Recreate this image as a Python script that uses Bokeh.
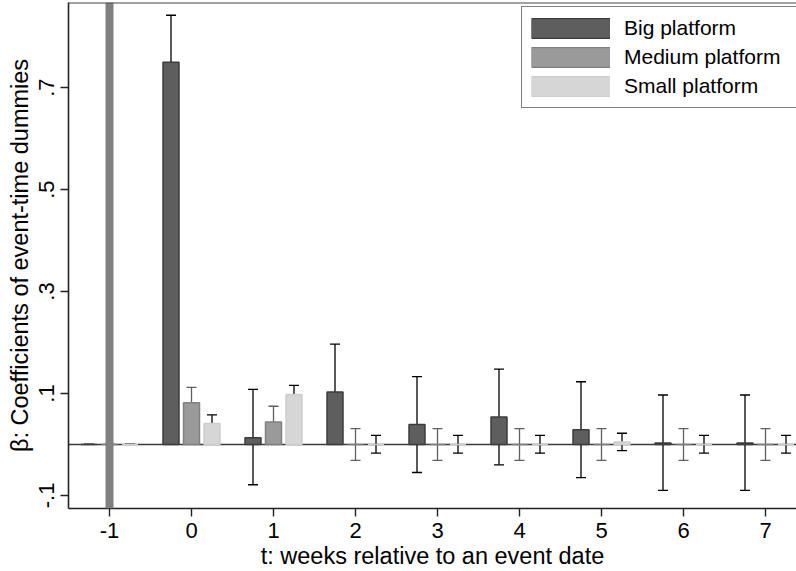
import numpy as np
from bokeh.plotting import figure
from bokeh.models import (ColumnDataSource, Range1d, FixedTicker, Span, Whisker,
                          TeeHead, Legend, LegendItem)
from bokeh.embed import file_html
from bokeh.resources import INLINE

# ---- data ----
weeks = [-1, 0, 1, 2, 3, 4, 5, 6, 7]
big = [0.0, 0.750, 0.013, 0.103, 0.039, 0.054, 0.029, 0.003, 0.003]
big_lo = [0.0, 0.658, -0.079, 0.009, -0.055, -0.040, -0.065, -0.090, -0.090]
big_hi = [0.0, 0.842, 0.108, 0.197, 0.133, 0.148, 0.123, 0.097, 0.097]
medium = [0.0, 0.082, 0.044, 0.0, 0.0, 0.0, 0.0, 0.0, 0.0]
medium_lo = [0.0, 0.052, 0.014, -0.031, -0.031, -0.031, -0.031, -0.031, -0.031]
medium_hi = [0.0, 0.112, 0.075, 0.031, 0.031, 0.031, 0.031, 0.031, 0.031]
small = [0.0, 0.041, 0.098, 0.0, 0.0, 0.0, 0.005, 0.0, 0.0]
small_lo = [0.0, 0.024, 0.080, -0.017, -0.017, -0.017, -0.012, -0.017, -0.017]
small_hi = [0.0, 0.058, 0.116, 0.018, 0.018, 0.018, 0.022, 0.018, 0.018]
series_names = ["Big platform", "Medium platform", "Small platform"]
y_ticks = [-0.1, 0.1, 0.3, 0.5, 0.7]
y_tick_labels = ["-.1", ".1", ".3", ".5", ".7"]
x_tick_labels = ["-1", "0", "1", "2", "3", "4", "5", "6", "7"]
event_week = -1
x_title = "t: weeks relative to an event date"
y_title = "\u03b2: Coefficients of event-time dummies"

FONT = "Liberation Sans"

p = figure(width=796, height=571, output_backend="svg", toolbar_location=None,
           x_range=Range1d(-1.5, 7.378), y_range=Range1d(-0.1256, 0.867),
           min_border_left=68, min_border_right=0, min_border_top=2,
           min_border_bottom=63)
p.outline_line_color = None
p.xgrid.visible = False
p.ygrid.visible = False
p.background_fill_color = "white"
p.border_fill_color = "white"

# zero line
p.add_layout(Span(location=0, dimension="width", line_color="#3a3a3a",
                  line_width=1.6, level="underlay"))

w = np.array(weeks, dtype=float)
offsets = [-0.25, 0.0, 0.25]
vals = [big, medium, small]
los = [big_lo, medium_lo, small_lo]
his = [big_hi, medium_hi, small_hi]
fills = ["#5e5e5e", "#9a9a9a", "#d6d6d6"]
lines = ["#3c3c3c", "#808080", "#cdcdcd"]
wcolors = ["#000000", "#606060", "#000000"]

# legend-only source: no visible points in the plot
legend_src = ColumnDataSource(dict(x=w, y=np.full(len(weeks), np.nan)))

legend_items = []
for k in range(3):
    src = ColumnDataSource(dict(x=w + offsets[k], top=vals[k], lo=los[k], hi=his[k]))
    p.vbar(x="x", top="top", bottom=0, width=0.195, source=src,
           fill_color=fills[k], line_color=lines[k], line_width=1.5)
    wh = Whisker(source=src, base="x", lower="lo", upper="hi",
                 line_color=wcolors[k], line_width=1.3,
                 upper_head=TeeHead(size=10, line_color=wcolors[k], line_width=1.3),
                 lower_head=TeeHead(size=10, line_color=wcolors[k], line_width=1.3))
    p.add_layout(wh)
    r_out = p.line(x="x", y="y", source=legend_src, line_color=lines[k],
                   line_width=21, line_cap="butt")
    r_in = p.line(x="x", y="y", source=legend_src, line_color=fills[k],
                  line_width=18.5, line_cap="butt")
    legend_items.append(LegendItem(label=series_names[k], renderers=[r_out, r_in]))

p.add_layout(Span(location=event_week, dimension="height", line_color="#808080",
                  line_width=8))
# top frame border
p.add_layout(Span(location=p.y_range.end, dimension="width", line_color="#444444",
                  line_width=2))

# axes
for ax in (p.xaxis[0], p.yaxis[0]):
    ax.axis_line_color = "#222222"
    ax.axis_line_width = 1.6
    ax.major_tick_line_color = "#222222"
    ax.major_tick_line_width = 1.4
    ax.major_tick_out = 8
    ax.major_tick_in = 0
    ax.minor_tick_line_color = None
    ax.major_label_text_font = FONT
    ax.major_label_text_font_size = "22px"
    ax.major_label_text_color = "black"
    ax.axis_label_text_font = FONT
    ax.axis_label_text_font_size = "23.5px"
    ax.axis_label_text_font_style = "normal"
    ax.axis_label_text_color = "black"

p.xaxis.ticker = FixedTicker(ticks=weeks)
p.xaxis.major_label_overrides = {wk: lab for wk, lab in zip(weeks, x_tick_labels)}
p.xaxis.axis_label = x_title
p.xaxis.major_label_standoff = 6
p.xaxis.axis_label_standoff = 2

p.yaxis.ticker = FixedTicker(ticks=y_ticks)
p.yaxis.major_label_overrides = {t: lab for t, lab in zip(y_ticks, y_tick_labels)}
p.yaxis.major_label_orientation = "parallel"
p.yaxis.axis_label = y_title
p.yaxis.major_label_standoff = 6
p.yaxis.axis_label_standoff = 4

legend = Legend(items=legend_items,
                location=(453, 400), orientation="vertical",
                glyph_width=79, glyph_height=24, label_standoff=14, label_width=180,
                padding=9, spacing=5, margin=0,
                border_line_color="black", border_line_width=1.2,
                background_fill_color="white", background_fill_alpha=1.0,
                label_text_font=FONT, label_text_font_size="21px",
                label_text_color="black")
p.add_layout(legend)

open("out.html", "w").write(file_html(p, INLINE))
